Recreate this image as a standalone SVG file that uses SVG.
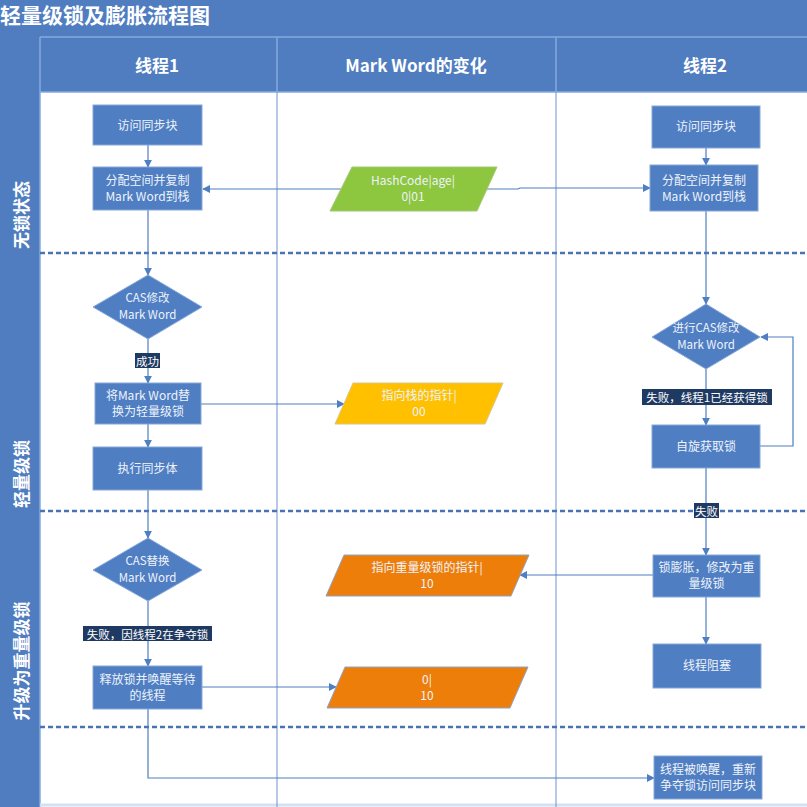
<svg xmlns="http://www.w3.org/2000/svg" width="807" height="807" viewBox="0 0 807 807">
  <defs>
    <style>
      .band { fill: #4F7DC0; }
      .hdr-line { stroke: #86AADF; stroke-width: 1.5; fill: none; }
      .col-line { stroke: #6D93CC; stroke-width: 1; fill: none; }
      .sep { stroke: #4A73B5; stroke-width: 2.5; stroke-dasharray: 5 3; fill: none; }
      .title { font-family: "Noto Sans CJK SC", "Noto Sans", sans-serif; font-weight: bold; fill: #FFFFFF; }
      .lane { font-family: "Noto Sans CJK SC", "Noto Sans", sans-serif; font-weight: bold; font-size: 17px; fill: #FFFFFF; text-anchor: middle; dominant-baseline: central; }
      .box { fill: #4F7EC2; stroke: #86A8DA; stroke-width: 1; }
      .txt { font-family: "Noto Sans CJK SC", "Noto Sans", sans-serif; font-size: 12px; fill: #EEF3FB; text-anchor: middle; }
      .dtxt { font-family: "Noto Sans CJK SC", "Noto Sans", sans-serif; font-size: 11.5px; fill: #EEF3FB; text-anchor: middle; }
      .lbl-bg { fill: #1F3A62; }
      .lbl { font-family: "Noto Sans CJK SC", "Noto Sans", sans-serif; font-size: 11.5px; fill: #FFFFFF; text-anchor: middle; dominant-baseline: central; }
      .edge { stroke: #4F7EC2; stroke-width: 1.2; fill: none; }
    </style>
    <marker id="arrow" viewBox="0 0 10 10" refX="9" refY="5" markerWidth="8" markerHeight="8" markerUnits="userSpaceOnUse" orient="auto">
      <path d="M0,0 L10,5 L0,10 z" fill="#4F7EC2"/>
    </marker>
  </defs>

  <!-- background -->
  <rect x="0" y="0" width="807" height="807" fill="#FFFFFF"/>
  <rect class="band" x="0" y="0" width="807" height="92"/>
  <rect class="band" x="0" y="92" width="40" height="715"/>
  <line class="hdr-line" x1="40" y1="37" x2="807" y2="37"/>
  <line class="hdr-line" x1="40" y1="37" x2="40" y2="807"/>
  <line class="hdr-line" x1="40" y1="92" x2="807" y2="92"/>
  <line class="hdr-line" x1="277" y1="37" x2="277" y2="92"/>
  <line class="hdr-line" x1="556" y1="37" x2="556" y2="92"/>
  <line x1="40" y1="805" x2="807" y2="805" stroke="#D4E1F3" stroke-width="3"/>

  <!-- column separators -->
  <line class="col-line" x1="277" y1="92" x2="277" y2="807"/>
  <line class="col-line" x1="556" y1="92" x2="556" y2="807"/>

  <!-- phase separators -->
  <line class="sep" x1="40" y1="253" x2="807" y2="253"/>
  <line class="sep" x1="40" y1="511" x2="807" y2="511"/>
  <line class="sep" x1="40" y1="727" x2="807" y2="727"/>

  <!-- title and headers -->
  <text class="title" x="0" y="23" font-size="21">轻量级锁及膨胀流程图</text>
  <text class="lane" x="157" y="64">线程1</text>
  <text class="lane" x="416" y="64">Mark Word的变化</text>
  <text class="lane" x="705" y="64">线程2</text>

  <!-- phase names -->
  <text class="lane" transform="translate(20,215) rotate(-90)">无锁状态</text>
  <text class="lane" transform="translate(20,474) rotate(-90)">轻量级锁</text>
  <text class="lane" transform="translate(20,661) rotate(-90)">升级为重量级锁</text>

  <!-- connectors -->
  <g id="connectors">
    <path class="edge" d="M148,145 V167" marker-end="url(#arrow)"/>
    <path class="edge" d="M341,189 H203" marker-end="url(#arrow)"/>
    <path class="edge" d="M487,189 H518 L520,188 H650" marker-end="url(#arrow)"/>
    <path class="edge" d="M148,210 V275" marker-end="url(#arrow)"/>
    <path class="edge" d="M148,339 V383" marker-end="url(#arrow)"/>
    <path class="edge" d="M201,404 H344" marker-end="url(#arrow)"/>
    <path class="edge" d="M148,424 V447" marker-end="url(#arrow)"/>
    <path class="edge" d="M148,490 V538" marker-end="url(#arrow)"/>
    <path class="edge" d="M148,601 V666" marker-end="url(#arrow)"/>
    <path class="edge" d="M202,687 H336" marker-end="url(#arrow)"/>
    <path class="edge" d="M148,709 V778 H654" marker-end="url(#arrow)"/>
    <path class="edge" d="M706,148 V165" marker-end="url(#arrow)"/>
    <path class="edge" d="M706,211 V304" marker-end="url(#arrow)"/>
    <path class="edge" d="M706,369 V425" marker-end="url(#arrow)"/>
    <path class="edge" d="M760,446 H793 V337 H761" marker-end="url(#arrow)"/>
    <path class="edge" d="M706,468 V555" marker-end="url(#arrow)"/>
    <path class="edge" d="M653,575 H520" marker-end="url(#arrow)"/>
    <path class="edge" d="M706,597 V644" marker-end="url(#arrow)"/>

    <!-- edge labels -->
    <rect class="lbl-bg" x="135" y="353" width="25" height="15"/>
    <text class="lbl" x="147.5" y="360.5">成功</text>
    <rect class="lbl-bg" x="83" y="626" width="129" height="15"/>
    <text class="lbl" x="147.5" y="633.5">失败，因线程2在争夺锁</text>
    <rect class="lbl-bg" x="642" y="389" width="130" height="16"/>
    <text class="lbl" x="707" y="397">失败，线程1已经获得锁</text>
    <rect class="lbl-bg" x="694" y="503" width="25" height="15"/>
    <text class="lbl" x="706.5" y="510.5">失败</text>
  </g>

  <!-- thread 1 -->
  <g id="t1-enter">
    <rect class="box" x="93" y="105" width="109" height="40"/>
    <text class="txt" x="147.5" y="129.5">访问同步块</text>
  </g>
  <g id="t1-copy">
    <rect class="box" x="93" y="167" width="109" height="43"/>
    <text class="txt" x="147.5" y="185">分配空间并复制</text>
    <text class="txt" x="147.5" y="201">Mark Word到栈</text>
  </g>
  <g id="t1-cas">
    <polygon class="box" points="148,275 202,307 148,339 93,307"/>
    <text class="dtxt" x="147.5" y="302">CAS修改</text>
    <text class="dtxt" x="147.5" y="318.5">Mark Word</text>
  </g>
  <g id="t1-replace">
    <rect class="box" x="95" y="383" width="106" height="41"/>
    <text class="txt" x="148" y="400">将Mark Word替</text>
    <text class="txt" x="148" y="416">换为轻量级锁</text>
  </g>
  <g id="t1-exec">
    <rect class="box" x="93" y="447" width="109" height="43"/>
    <text class="txt" x="147.5" y="472.5">执行同步体</text>
  </g>
  <g id="t1-cas2">
    <polygon class="box" points="148,538 202,570 148,601 93,570"/>
    <text class="dtxt" x="147.5" y="565">CAS替换</text>
    <text class="dtxt" x="147.5" y="581.5">Mark Word</text>
  </g>
  <g id="t1-release">
    <rect class="box" x="93" y="666" width="109" height="43"/>
    <text class="txt" x="147.5" y="684">释放锁并唤醒等待</text>
    <text class="txt" x="147.5" y="700">的线程</text>
  </g>

  <!-- mark word states -->
  <g id="mw-unlocked">
    <polygon points="352,167 497,167 477,211 330,211" fill="#8DC63F" stroke="#A5C77A" stroke-width="1"/>
    <text class="txt" x="413" y="185">HashCode|age|</text>
    <text class="txt" x="413" y="201">0|01</text>
  </g>
  <g id="mw-stack">
    <polygon points="353,383 503,383 485,424 335,424" fill="#FFC000" stroke="#D8C58A" stroke-width="1"/>
    <text class="txt" x="419" y="400" fill="#FFF6D8">指向栈的指针|</text>
    <text class="txt" x="419" y="416" fill="#FFF6D8">00</text>
  </g>
  <g id="mw-heavy">
    <polygon points="344,555 529,555 511,596 326,596" fill="#EE7E0A" stroke="#8FA3C8" stroke-width="1"/>
    <text class="txt" x="427" y="572">指向重量级锁的指针|</text>
    <text class="txt" x="427" y="588">10</text>
  </g>
  <g id="mw-heavy2">
    <polygon points="345,667 528,667 510,708 327,708" fill="#EE7E0A" stroke="#8FA3C8" stroke-width="1"/>
    <text class="txt" x="427" y="684">0|</text>
    <text class="txt" x="427" y="700">10</text>
  </g>

  <!-- thread 2 -->
  <g id="t2-enter">
    <rect class="box" x="652" y="106" width="108" height="42"/>
    <text class="txt" x="706" y="131">访问同步块</text>
  </g>
  <g id="t2-copy">
    <rect class="box" x="650" y="165" width="108" height="46"/>
    <text class="txt" x="704" y="185">分配空间并复制</text>
    <text class="txt" x="704" y="201">Mark Word到栈</text>
  </g>
  <g id="t2-cas">
    <polygon class="box" points="706,304 760,337 706,369 652,337"/>
    <text class="dtxt" x="706" y="332">进行CAS修改</text>
    <text class="dtxt" x="706" y="348.5">Mark Word</text>
  </g>
  <g id="t2-spin">
    <rect class="box" x="652" y="425" width="108" height="43"/>
    <text class="txt" x="706" y="450.5">自旋获取锁</text>
  </g>
  <g id="t2-inflate">
    <rect class="box" x="653" y="555" width="107" height="42"/>
    <text class="txt" x="706.5" y="572">锁膨胀，修改为重</text>
    <text class="txt" x="706.5" y="588">量级锁</text>
  </g>
  <g id="t2-block">
    <rect class="box" x="653" y="644" width="108" height="44"/>
    <text class="txt" x="707" y="670">线程阻塞</text>
  </g>
  <g id="t2-wake">
    <rect class="box" x="654" y="756" width="108" height="43"/>
    <text class="txt" x="708" y="774">线程被唤醒，重新</text>
    <text class="txt" x="708" y="790">争夺锁访问同步块</text>
  </g>
</svg>
